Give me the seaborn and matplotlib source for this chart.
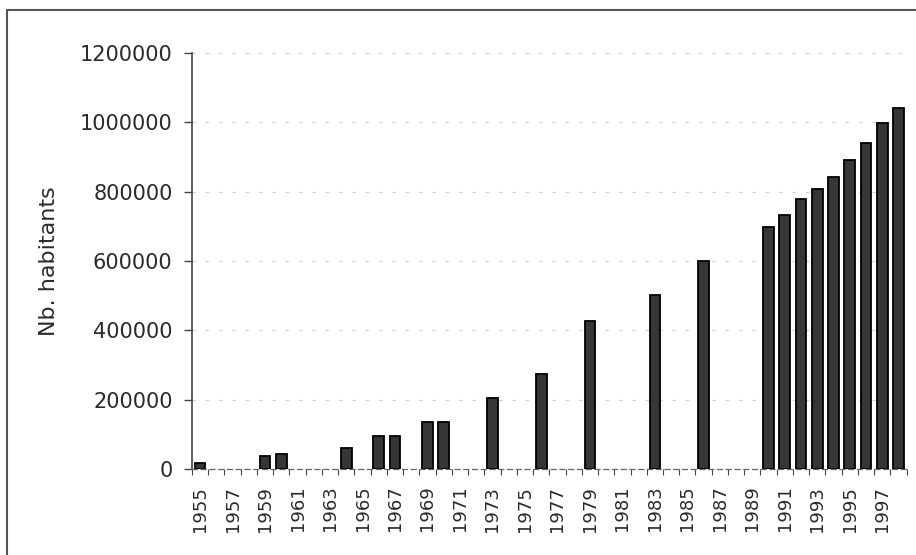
import matplotlib
matplotlib.use("Agg")
import matplotlib.pyplot as plt
from matplotlib.lines import Line2D
import seaborn as sns
import pandas as pd

# Population by year (0 = no census figure that year)
years = list(range(1955, 1999))
habitants = [
    18000, 0, 0, 0, 38000, 43000, 0, 0, 0, 62000,
    0, 95000, 94000, 0, 136000, 136000, 0, 0, 204000, 0,
    0, 275000, 0, 0, 427000, 0, 0, 0, 503000, 0,
    0, 600000, 0, 0, 0, 697000, 733000, 780000, 808000, 843000,
    890000, 941000, 998000, 1040000,
]
y_ticks = [0, 200000, 400000, 600000, 800000, 1000000, 1200000]
y_label = "Nb. habitants"

sns.set_style("white")
plt.rcParams["font.family"] = ["DejaVu Sans"]

df = pd.DataFrame({"annee": [str(y) for y in years], "habitants": habitants})

fig = plt.figure(figsize=(9.16, 5.55), dpi=100)
ax = fig.add_axes([192 / 916, 86 / 555, 714.6 / 916, 416 / 555])

sns.barplot(data=df, x="annee", y="habitants", order=df["annee"],
            color="#363636", width=0.66, edgecolor="black", linewidth=1.3,
            saturation=1, ax=ax)
# empty years get no outline
for p in ax.patches:
    if p.get_height() == 0:
        p.set_linewidth(0)

ax.set_xlim(-0.5, len(years) - 0.5)
ax.set_ylim(0, 1200000)
ax.set_yticks(y_ticks)
ax.set_yticklabels([str(v) for v in y_ticks], fontsize=15, color="#2a2a2a")

# labels every other year, tick marks between categories
ax.set_xticks(range(0, len(years), 2))
ax.set_xticklabels([str(years[i]) for i in range(0, len(years), 2)],
                   rotation=90, fontsize=13, color="#2a2a2a")
ax.set_xticks([i - 0.5 for i in range(len(years) + 1)], minor=True)
ax.tick_params(axis="x", which="major", bottom=False, length=0, pad=12)
ax.tick_params(axis="x", which="minor", bottom=True, length=4, width=0.8,
               color="#444444")
ax.tick_params(axis="y", which="major", left=True, length=6, width=1,
               color="#444444", pad=8)

ax.set_xlabel("")
ax.set_ylabel(y_label, fontsize=16, color="#2a2a2a")
ax.yaxis.set_label_coords(-0.186, 0.5)

# faint horizontal gridlines
ax.grid(axis="y", color="#d0d0d0", linestyle=(0, (3, 9)), linewidth=0.8)
ax.set_axisbelow(True)

sns.despine(ax=ax, top=True, right=True)
ax.spines["left"].set_color("#444444")
ax.spines["left"].set_linewidth(1.2)
ax.spines["bottom"].set_color("#666666")
ax.spines["bottom"].set_linewidth(0.9)
ax.spines["bottom"].set_linestyle((0, (4, 3)))

# frame lines along the top and left of the figure
fig.add_artist(Line2D([7 / 916, 1.0], [1 - 10 / 555, 1 - 10 / 555],
                      transform=fig.transFigure, color="#555555", lw=1.5))
fig.add_artist(Line2D([7 / 916, 7 / 916], [0.0, 1 - 10 / 555],
                      transform=fig.transFigure, color="#555555", lw=1.5))

fig.savefig("out.png", dpi=100)
